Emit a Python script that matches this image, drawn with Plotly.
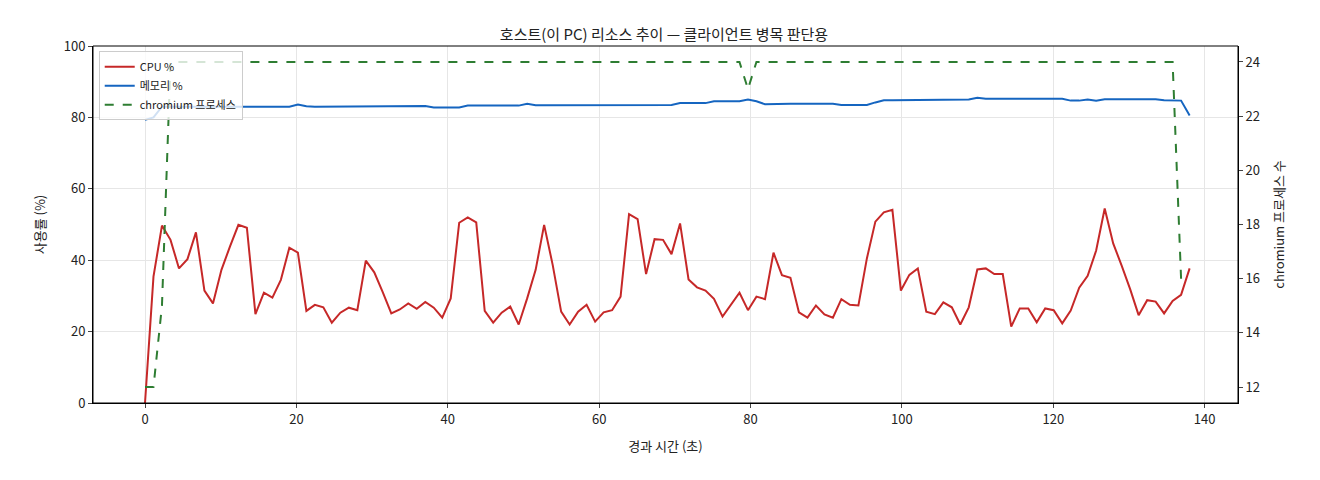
import plotly.graph_objects as go

cpu = [0, 35.4, 49.7, 45.7, 37.7, 40.3, 47.8, 31.5, 27.9, 37.3, 43.8, 49.9, 49.1, 24.9, 30.9, 29.5,
       34.5, 43.5, 42.1, 25.8, 27.5, 26.8, 22.5, 25.3, 26.7, 26.0, 39.9, 36.6, 31.0, 25.1, 26.2, 27.9,
       26.4, 28.3, 26.7, 23.9, 29.3, 50.5, 52.0, 50.6, 25.8, 22.5, 25.3, 27.0, 22.0,
       29.3, 37.3, 49.9, 38.7, 25.6, 22.0, 25.6, 27.5, 22.8, 25.4, 26.0, 29.8, 52.9, 51.5, 36.1, 45.9,
       45.7, 41.7, 50.3, 34.6, 32.4, 31.5, 29.2, 24.2, 27.6, 30.9, 26.0, 29.8, 29.1, 42.1, 35.8, 35.1,
       25.4, 23.9, 27.3, 24.8, 23.9, 29.1, 27.5, 27.3, 40.5, 50.8, 53.4,
       54.1, 31.5, 35.9, 37.7, 25.6, 24.9, 28.2, 26.8, 22.0, 26.8, 37.4, 37.7, 36.1, 36.1, 21.4, 26.5,
       26.5, 22.6, 26.5, 26.0, 22.3, 25.9, 32.3, 35.6, 42.7, 54.5, 44.7, 38.5, 31.9, 24.6, 28.8, 28.4,
       25.1, 28.6, 30.3, 37.7]
mem = ([79.3, 80.0] + [83.0] * 16 + [83.6, 83.1] + [83.0] * 10 + [83.2] * 4 + [82.8] * 4
       + [83.3] * 7 + [83.8] + [83.4] * 7 + [83.3] * 5 + [83.5] * 5 + [84.0] * 4 + [84.5] * 4
       + [85.0, 84.5, 83.7] + [83.8] * 8 + [83.5] * 4 + [84.2] + [84.8] * 3 + [85.0] * 8 + [85.5]
       + [85.2] * 10 + [84.7] * 2 + [85.0, 84.7] + [85.1] * 7 + [84.8] * 2 + [84.7, 80.5])
procs = [12, 12, 15] + [24] * 68 + [23] + [24] * 50 + [16]
step = 1.122
elapsed = [round(i * step, 2) for i in range(len(cpu))]

fig = go.Figure()
fig.add_trace(go.Scatter(x=elapsed, y=cpu, name="CPU %", mode="lines",
                         line=dict(color="#c62828", width=2)))
fig.add_trace(go.Scatter(x=elapsed, y=mem, name="메모리 %", mode="lines",
                         line=dict(color="#1565c0", width=2)))
fig.add_trace(go.Scatter(x=elapsed, y=procs, name="chromium 프로세스", mode="lines", yaxis="y2",
                         line=dict(color="#2e7d32", width=2, dash="dash")))

ax = dict(showline=True, linecolor="black", mirror=False, ticks="outside", ticklen=4,
          gridcolor="#e6e6e6", zeroline=False, tickfont=dict(size=13), automargin=False)
fig.update_layout(
    width=1312, height=472, paper_bgcolor="white", plot_bgcolor="white",
    font=dict(family="Noto Sans CJK KR", size=13, color="#222"),
    title=dict(text="호스트(이 PC) 리소스 추이 — 클라이언트 병목 판단용", x=0.5, y=0.955,
               xanchor="center", font=dict(size=15)),
    margin=dict(l=85, r=82, t=38, b=77),
    xaxis=dict(ax, range=[-6.87, 144.4], dtick=20, title=dict(text="경과 시간 (초)", font=dict(size=13))),
    yaxis=dict(ax, range=[0, 100], dtick=20, title=dict(text="사용률 (%)", font=dict(size=13))),
    yaxis2=dict(ax, overlaying="y", side="right", range=[11.41, 24.59], dtick=2, showgrid=False,
                title=dict(text="chromium 프로세스 수", font=dict(size=13))),
    legend=dict(x=0.005, y=0.985, xanchor="left", yanchor="top", bgcolor="rgba(255,255,255,0.8)",
                bordercolor="#ccc", borderwidth=1, font=dict(size=11)),
    showlegend=True,
)
fig.add_shape(type="rect", xref="paper", yref="paper", x0=0, y0=0, x1=1, y1=1,
              line=dict(color="black", width=1))
fig.write_html("out.html")
